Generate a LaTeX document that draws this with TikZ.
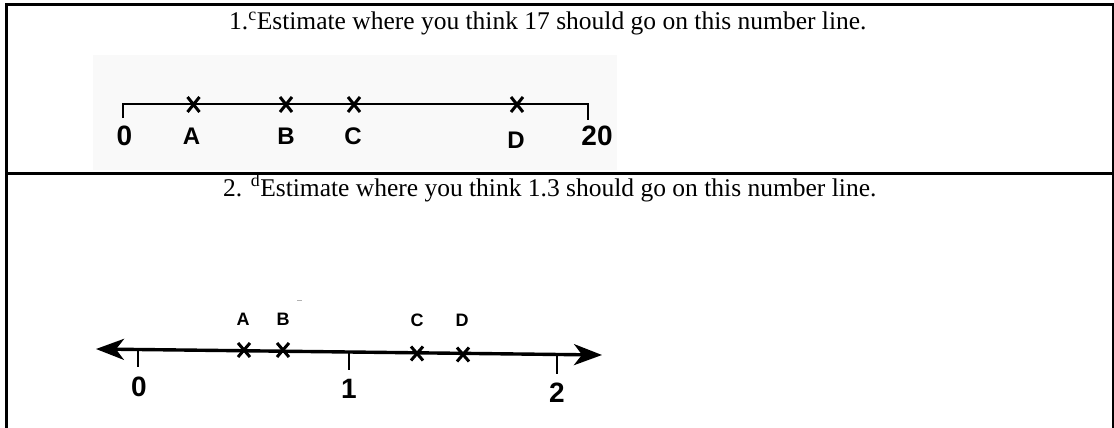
\documentclass[tikz,border=0pt]{standalone}
\usepackage{fontspec}
\setmainfont{Liberation Serif}
\newfontfamily\lsans{Liberation Sans}
\usetikzlibrary{arrows.meta}
\definecolor{imgbg}{RGB}{249,249,249}
\begin{document}
\begin{tikzpicture}[x=1pt,y=-1pt,
  rule/.style={line width=3pt,black},
  qtext/.style={anchor=base west,inner sep=0pt,font=\fontsize{25.5}{30}\selectfont},
  labA/.style={inner sep=0pt,font=\lsans\bfseries\fontsize{24}{28}\selectfont},
  numA/.style={inner sep=0pt,font=\lsans\bfseries\fontsize{28}{32}\selectfont},
  labB/.style={inner sep=0pt,font=\lsans\bfseries\fontsize{18}{22}\selectfont},
  numB/.style={inner sep=0pt,font=\lsans\bfseries\fontsize{28}{32}\selectfont},
  xmarkA/.pic={\draw[line width=3pt] (-6,-7.5) -- (6,7.5) (-6,7.5) -- (6,-7.5);},
  xmarkB/.pic={\draw[line width=3pt] (-6,-7) -- (6,7) (-6,7) -- (6,-7);},
  bigarrows/.style={{Stealth[length=28pt,width=21pt,inset=8pt]}-{Stealth[length=28pt,width=21pt,inset=8pt]}}
]
\useasboundingbox (0,0) rectangle (1114,428);
\fill[white] (0,0) rectangle (1114,428);
% table rules
\draw[rule] (6,428) -- (6,5) -- (1113,5) -- (1113,428);
\draw[rule] (6,173) -- (1113,173);
% question 1
\node[qtext] (q1) at (229,30) {1.\textsuperscript{c}Estimate where you think 17 should go on this number line.};
\fill[imgbg] (93,55) rectangle (617,170);
\coordinate (a0) at (123,118);
\coordinate (a1) at (123,104);
\coordinate (a2) at (588,104);
\coordinate (a3) at (588,120);
\draw[line width=2.2pt] (a0) -- (a1) -- (a2) -- (a3);
\pic at (193.5,104.5) {xmarkA};
\pic at (286,104.5) {xmarkA};
\pic at (354,104.5) {xmarkA};
\pic at (517,104.5) {xmarkA};
\node[numA] (n0) at (124.5,136) {0};
\node[labA] (nA) at (191.5,136) {A};
\node[labA] (nB) at (286,136) {B};
\node[labA] (nC) at (353,136) {C};
\node[labA] (nD) at (516,140) {D};
\node[numA] (n20) at (597,136) {20};
% question 2
\node[qtext] (q2) at (223,196) {2. \textsuperscript{d}Estimate where you think 1.3 should go on this number line.};
\coordinate (L) at (96,349);
\coordinate (R) at (602,355);
\draw[line width=3.4pt,bigarrows] (L) -- (R);
\coordinate (t0a) at (138,350);
\coordinate (t0b) at (138,367);
\coordinate (t1a) at (349,352);
\coordinate (t1b) at (349,370);
\coordinate (t2a) at (557,355);
\coordinate (t2b) at (557,374);
\draw[line width=2.8pt] (t0a) -- (t0b) (t1a) -- (t1b) (t2a) -- (t2b);
\pic at (244,350) {xmarkB};
\pic at (283,350) {xmarkB};
\pic at (417,353.5) {xmarkB};
\pic at (463,354.5) {xmarkB};
\node[labB] (mA) at (243,319) {A};
\node[labB] (mB) at (283,319) {B};
\node[labB] (mC) at (417,320) {C};
\node[labB] (mD) at (462,320) {D};
\node[numB] (m0) at (139,387) {0};
\node[numB] (m1) at (349,389) {1};
\node[numB] (m2) at (557,393) {2};
\coordinate (s1) at (297,300);
\coordinate (s2) at (302,300);
\draw[gray!60,line width=0.8pt] (s1) -- (s2);
\end{tikzpicture}
\end{document}
